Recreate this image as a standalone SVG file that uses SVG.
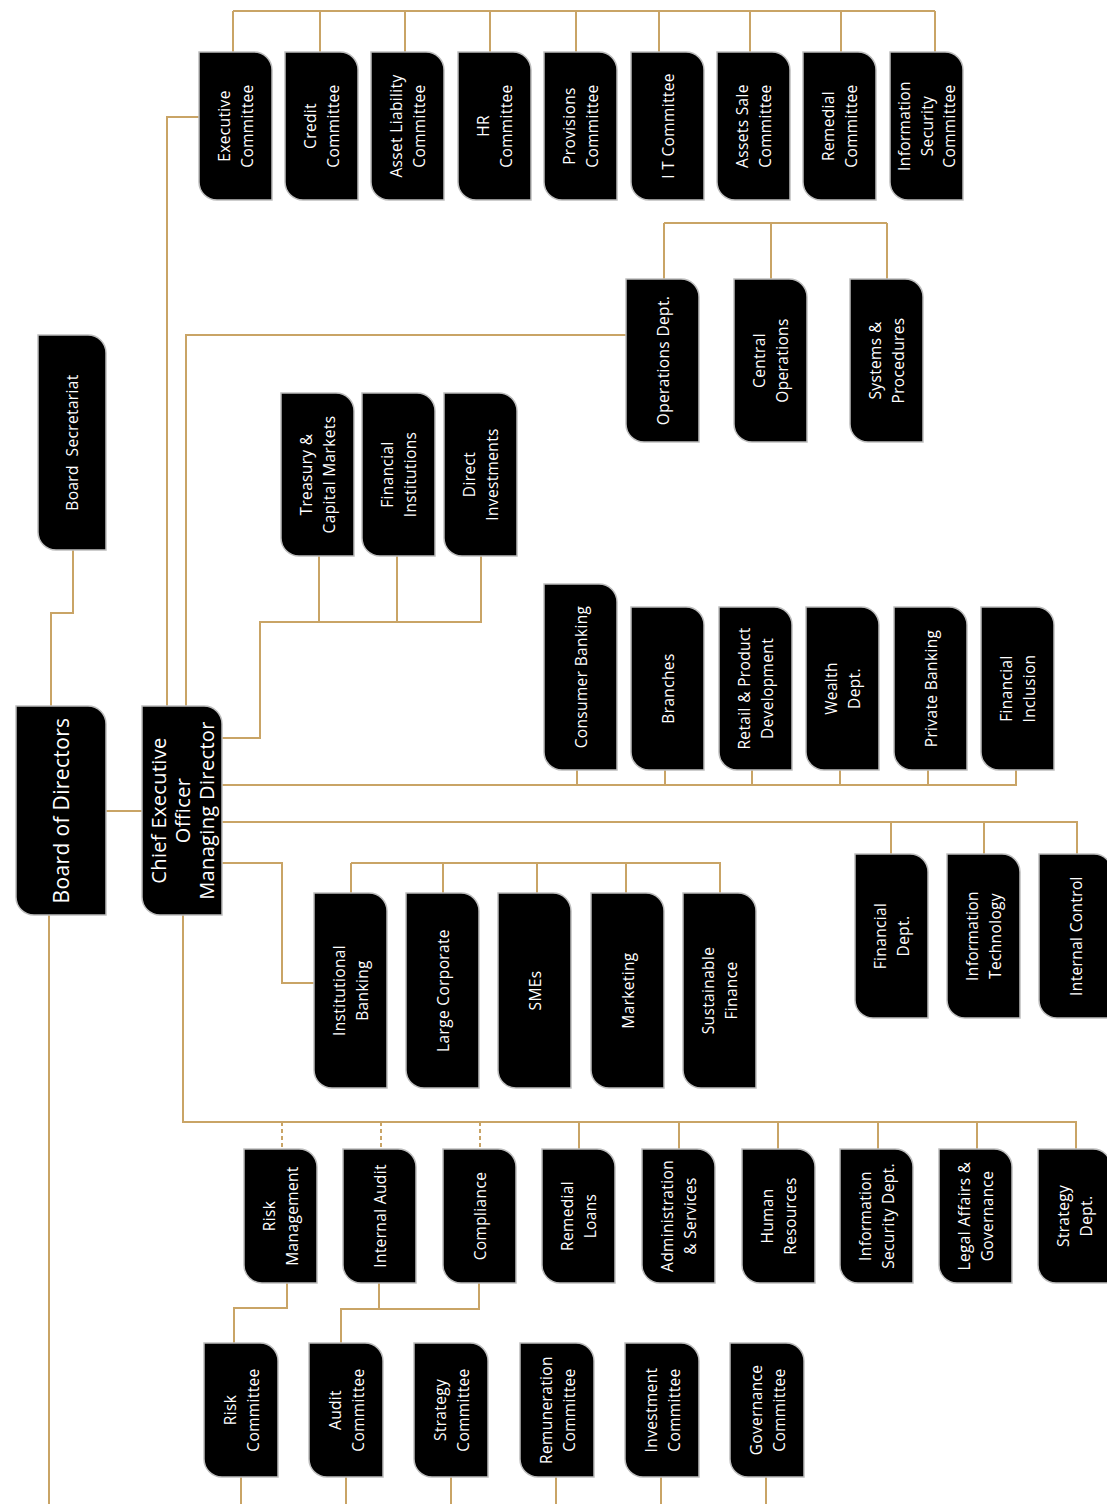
<svg xmlns="http://www.w3.org/2000/svg" width="1107" height="1504" viewBox="0 0 1107 1504">
<style>
.n path{fill:#000;stroke:#bdbdbd;stroke-width:1.5}
.n text{fill:#fff;font-family:'Open Sans','Noto Sans','DejaVu Sans',sans-serif;font-size:15.5px;letter-spacing:0.35px;text-anchor:middle;dominant-baseline:central}
.c path{fill:none;stroke:#c9a466;stroke-width:2}
.c path.d{stroke-dasharray:4 3}
</style>
<rect width="1107" height="1504" fill="#fff"/>
<g class="c" id="connectors">
<path d="M73,550 V613 H51 V706"/>
<path d="M49,915 V1504"/>
<path d="M106,811 H142"/>
<path d="M167,706 V117 H199"/>
<path d="M233,11 H935 M233,11 V52 M320,11 V52 M405,11 V52 M490,11 V52 M576,11 V52 M659,11 V52 M750,11 V52 M841,11 V52 M935,11 V52"/>
<path d="M186,706 V335 H626"/>
<path d="M664,223 H887 M664,223 V279 M771,223 V279 M887,223 V279"/>
<path d="M222,738 H260 V622 H481 V556 M319,622 V556 M397,622 V556"/>
<path d="M222,785 H1016 V770 M577,785 V770 M665,785 V770 M752,785 V770 M840,785 V770 M928,785 V770"/>
<path d="M222,822 H1077 V854 M891,822 V854 M984,822 V854"/>
<path d="M222,863 H282 V983 H314"/>
<path d="M351,863 H720 V893 M351,863 V893 M443,863 V893 M537,863 V893 M626,863 V893"/>
<path d="M183,915 V1122 H1076 V1149 M579,1122 V1149 M679,1122 V1149 M778,1122 V1149 M878,1122 V1149 M977,1122 V1149"/>
<path class="d" d="M282,1122 V1149 M381,1122 V1149 M480,1122 V1149"/>
<path d="M287,1283 V1308 H234 V1343"/>
<path d="M379,1283 V1309 M479,1283 V1309 H341 V1343"/>
<path d="M241,1477 V1504 M346,1477 V1504 M451,1477 V1504 M556,1477 V1504 M661,1477 V1504 M766,1477 V1504"/>
</g>

<g class="n" id="board-secretariat"><path d="M38,335 H88 A18,18 0 0 1 106,353 V550 H56 A18,18 0 0 1 38,532 Z"/><text xml:space="preserve" transform="translate(72,442.5) rotate(-90)">Board  Secretariat</text></g>
<g class="n" id="board-of-directors"><path d="M16,706 H88 A18,18 0 0 1 106,724 V915 H34 A18,18 0 0 1 16,897 Z"/><text style="font-size:21px" transform="translate(61,810.5) rotate(-90)">Board of Directors</text></g>
<g class="n" id="ceo"><path d="M142,706 H204 A18,18 0 0 1 222,724 V915 H160 A18,18 0 0 1 142,897 Z"/><text style="font-size:20px" transform="translate(182,810.5) rotate(-90)"><tspan x="0" y="-24">Chief Executive</tspan><tspan x="0" y="0">Officer</tspan><tspan x="0" y="24">Managing Director</tspan></text></g>

<g class="n" id="executive-committee"><path d="M199,52 H254 A18,18 0 0 1 272,70 V200 H217 A18,18 0 0 1 199,182 Z"/><text transform="translate(235.5,126) rotate(-90)"><tspan x="0" y="-11.5">Executive</tspan><tspan x="0" y="11.5">Committee</tspan></text></g>
<g class="n" id="credit-committee"><path d="M285,52 H340 A18,18 0 0 1 358,70 V200 H303 A18,18 0 0 1 285,182 Z"/><text transform="translate(321.5,126) rotate(-90)"><tspan x="0" y="-11.5">Credit</tspan><tspan x="0" y="11.5">Committee</tspan></text></g>
<g class="n" id="alco"><path d="M371,52 H426 A18,18 0 0 1 444,70 V200 H389 A18,18 0 0 1 371,182 Z"/><text transform="translate(407.5,126) rotate(-90)"><tspan x="0" y="-11.5">Asset Liability</tspan><tspan x="0" y="11.5">Committee</tspan></text></g>
<g class="n" id="hr-committee"><path d="M458,52 H513 A18,18 0 0 1 531,70 V200 H476 A18,18 0 0 1 458,182 Z"/><text transform="translate(494.5,126) rotate(-90)"><tspan x="0" y="-11.5">HR</tspan><tspan x="0" y="11.5">Committee</tspan></text></g>
<g class="n" id="provisions-committee"><path d="M544,52 H599 A18,18 0 0 1 617,70 V200 H562 A18,18 0 0 1 544,182 Z"/><text transform="translate(580.5,126) rotate(-90)"><tspan x="0" y="-11.5">Provisions</tspan><tspan x="0" y="11.5">Committee</tspan></text></g>
<g class="n" id="it-committee"><path d="M631,52 H686 A18,18 0 0 1 704,70 V200 H649 A18,18 0 0 1 631,182 Z"/><text transform="translate(667.5,126) rotate(-90)">I T Committee</text></g>
<g class="n" id="assets-sale-committee"><path d="M717,52 H772 A18,18 0 0 1 790,70 V200 H735 A18,18 0 0 1 717,182 Z"/><text transform="translate(753.5,126) rotate(-90)"><tspan x="0" y="-11.5">Assets Sale</tspan><tspan x="0" y="11.5">Committee</tspan></text></g>
<g class="n" id="remedial-committee"><path d="M803,52 H858 A18,18 0 0 1 876,70 V200 H821 A18,18 0 0 1 803,182 Z"/><text transform="translate(839.5,126) rotate(-90)"><tspan x="0" y="-11.5">Remedial</tspan><tspan x="0" y="11.5">Committee</tspan></text></g>
<g class="n" id="infosec-committee"><path d="M890,52 H945 A18,18 0 0 1 963,70 V200 H908 A18,18 0 0 1 890,182 Z"/><text transform="translate(926.5,126) rotate(-90)"><tspan x="0" y="-22.5">Information</tspan><tspan x="0" y="0">Security</tspan><tspan x="0" y="22.5">Committee</tspan></text></g>

<g class="n" id="operations-dept"><path d="M626,279 H681 A18,18 0 0 1 699,297 V442 H644 A18,18 0 0 1 626,424 Z"/><text transform="translate(662.5,360.5) rotate(-90)">Operations Dept.</text></g>
<g class="n" id="central-operations"><path d="M734,279 H789 A18,18 0 0 1 807,297 V442 H752 A18,18 0 0 1 734,424 Z"/><text transform="translate(770.5,360.5) rotate(-90)"><tspan x="0" y="-11.5">Central</tspan><tspan x="0" y="11.5">Operations</tspan></text></g>
<g class="n" id="systems-procedures"><path d="M850,279 H905 A18,18 0 0 1 923,297 V442 H868 A18,18 0 0 1 850,424 Z"/><text transform="translate(886.5,360.5) rotate(-90)"><tspan x="0" y="-11.5">Systems &amp;</tspan><tspan x="0" y="11.5">Procedures</tspan></text></g>

<g class="n" id="treasury"><path d="M281,393 H336 A18,18 0 0 1 354,411 V556 H299 A18,18 0 0 1 281,538 Z"/><text transform="translate(317.5,474.5) rotate(-90)"><tspan x="0" y="-11.5">Treasury &amp;</tspan><tspan x="0" y="11.5">Capital Markets</tspan></text></g>
<g class="n" id="financial-institutions"><path d="M362,393 H417 A18,18 0 0 1 435,411 V556 H380 A18,18 0 0 1 362,538 Z"/><text transform="translate(398.5,474.5) rotate(-90)"><tspan x="0" y="-11.5">Financial</tspan><tspan x="0" y="11.5">Institutions</tspan></text></g>
<g class="n" id="direct-investments"><path d="M444,393 H499 A18,18 0 0 1 517,411 V556 H462 A18,18 0 0 1 444,538 Z"/><text transform="translate(480.5,474.5) rotate(-90)"><tspan x="0" y="-11.5">Direct</tspan><tspan x="0" y="11.5">Investments</tspan></text></g>

<g class="n" id="consumer-banking"><path d="M544,584 H599 A18,18 0 0 1 617,602 V770 H562 A18,18 0 0 1 544,752 Z"/><text transform="translate(580.5,677) rotate(-90)">Consumer Banking</text></g>
<g class="n" id="branches"><path d="M631,607 H686 A18,18 0 0 1 704,625 V770 H649 A18,18 0 0 1 631,752 Z"/><text transform="translate(667.5,688.5) rotate(-90)">Branches</text></g>
<g class="n" id="retail-product"><path d="M719,607 H774 A18,18 0 0 1 792,625 V770 H737 A18,18 0 0 1 719,752 Z"/><text transform="translate(755.5,688.5) rotate(-90)"><tspan x="0" y="-11.5">Retail &amp; Product</tspan><tspan x="0" y="11.5">Development</tspan></text></g>
<g class="n" id="wealth-dept"><path d="M806,607 H861 A18,18 0 0 1 879,625 V770 H824 A18,18 0 0 1 806,752 Z"/><text transform="translate(842.5,688.5) rotate(-90)"><tspan x="0" y="-11.5">Wealth</tspan><tspan x="0" y="11.5">Dept.</tspan></text></g>
<g class="n" id="private-banking"><path d="M894,607 H949 A18,18 0 0 1 967,625 V770 H912 A18,18 0 0 1 894,752 Z"/><text transform="translate(930.5,688.5) rotate(-90)">Private Banking</text></g>
<g class="n" id="financial-inclusion"><path d="M981,607 H1036 A18,18 0 0 1 1054,625 V770 H999 A18,18 0 0 1 981,752 Z"/><text transform="translate(1017.5,688.5) rotate(-90)"><tspan x="0" y="-11.5">Financial</tspan><tspan x="0" y="11.5">Inclusion</tspan></text></g>

<g class="n" id="financial-dept"><path d="M855,854 H910 A18,18 0 0 1 928,872 V1018 H873 A18,18 0 0 1 855,1000 Z"/><text transform="translate(891.5,936) rotate(-90)"><tspan x="0" y="-11.5">Financial</tspan><tspan x="0" y="11.5">Dept.</tspan></text></g>
<g class="n" id="information-technology"><path d="M947,854 H1002 A18,18 0 0 1 1020,872 V1018 H965 A18,18 0 0 1 947,1000 Z"/><text transform="translate(983.5,936) rotate(-90)"><tspan x="0" y="-11.5">Information</tspan><tspan x="0" y="11.5">Technology</tspan></text></g>
<g class="n" id="internal-control"><path d="M1039,854 H1094 A18,18 0 0 1 1112,872 V1018 H1057 A18,18 0 0 1 1039,1000 Z"/><text transform="translate(1075.5,936) rotate(-90)">Internal Control</text></g>

<g class="n" id="institutional-banking"><path d="M314,893 H369 A18,18 0 0 1 387,911 V1088 H332 A18,18 0 0 1 314,1070 Z"/><text transform="translate(350.5,990.5) rotate(-90)"><tspan x="0" y="-11.5">Institutional</tspan><tspan x="0" y="11.5">Banking</tspan></text></g>
<g class="n" id="large-corporate"><path d="M406,893 H461 A18,18 0 0 1 479,911 V1088 H424 A18,18 0 0 1 406,1070 Z"/><text transform="translate(442.5,990.5) rotate(-90)">Large Corporate</text></g>
<g class="n" id="smes"><path d="M498,893 H553 A18,18 0 0 1 571,911 V1088 H516 A18,18 0 0 1 498,1070 Z"/><text transform="translate(534.5,990.5) rotate(-90)">SMEs</text></g>
<g class="n" id="marketing"><path d="M591,893 H646 A18,18 0 0 1 664,911 V1088 H609 A18,18 0 0 1 591,1070 Z"/><text transform="translate(627.5,990.5) rotate(-90)">Marketing</text></g>
<g class="n" id="sustainable-finance"><path d="M683,893 H738 A18,18 0 0 1 756,911 V1088 H701 A18,18 0 0 1 683,1070 Z"/><text transform="translate(719.5,990.5) rotate(-90)"><tspan x="0" y="-11.5">Sustainable</tspan><tspan x="0" y="11.5">Finance</tspan></text></g>

<g class="n" id="risk-management"><path d="M244,1149 H299 A18,18 0 0 1 317,1167 V1283 H262 A18,18 0 0 1 244,1265 Z"/><text transform="translate(280.5,1216) rotate(-90)"><tspan x="0" y="-11.5">Risk</tspan><tspan x="0" y="11.5">Management</tspan></text></g>
<g class="n" id="internal-audit"><path d="M343,1149 H398 A18,18 0 0 1 416,1167 V1283 H361 A18,18 0 0 1 343,1265 Z"/><text transform="translate(379.5,1216) rotate(-90)">Internal Audit</text></g>
<g class="n" id="compliance"><path d="M443,1149 H498 A18,18 0 0 1 516,1167 V1283 H461 A18,18 0 0 1 443,1265 Z"/><text transform="translate(479.5,1216) rotate(-90)">Compliance</text></g>
<g class="n" id="remedial-loans"><path d="M542,1149 H597 A18,18 0 0 1 615,1167 V1283 H560 A18,18 0 0 1 542,1265 Z"/><text transform="translate(578.5,1216) rotate(-90)"><tspan x="0" y="-11.5">Remedial</tspan><tspan x="0" y="11.5">Loans</tspan></text></g>
<g class="n" id="administration"><path d="M642,1149 H697 A18,18 0 0 1 715,1167 V1283 H660 A18,18 0 0 1 642,1265 Z"/><text transform="translate(678.5,1216) rotate(-90)"><tspan x="0" y="-11.5">Administration</tspan><tspan x="0" y="11.5">&amp; Services</tspan></text></g>
<g class="n" id="human-resources"><path d="M742,1149 H797 A18,18 0 0 1 815,1167 V1283 H760 A18,18 0 0 1 742,1265 Z"/><text transform="translate(778.5,1216) rotate(-90)"><tspan x="0" y="-11.5">Human</tspan><tspan x="0" y="11.5">Resources</tspan></text></g>
<g class="n" id="infosec-dept"><path d="M840,1149 H895 A18,18 0 0 1 913,1167 V1283 H858 A18,18 0 0 1 840,1265 Z"/><text transform="translate(876.5,1216) rotate(-90)"><tspan x="0" y="-11.5">Information</tspan><tspan x="0" y="11.5">Security Dept.</tspan></text></g>
<g class="n" id="legal-affairs"><path d="M939,1149 H994 A18,18 0 0 1 1012,1167 V1283 H957 A18,18 0 0 1 939,1265 Z"/><text transform="translate(975.5,1216) rotate(-90)"><tspan x="0" y="-11.5">Legal Affairs &amp;</tspan><tspan x="0" y="11.5">Governance</tspan></text></g>
<g class="n" id="strategy-dept"><path d="M1038,1149 H1093 A18,18 0 0 1 1111,1167 V1283 H1056 A18,18 0 0 1 1038,1265 Z"/><text transform="translate(1074.5,1216) rotate(-90)"><tspan x="0" y="-11.5">Strategy</tspan><tspan x="0" y="11.5">Dept.</tspan></text></g>

<g class="n" id="risk-committee"><path d="M204,1343 H260 A18,18 0 0 1 278,1361 V1477 H222 A18,18 0 0 1 204,1459 Z"/><text transform="translate(241,1410) rotate(-90)"><tspan x="0" y="-11.5">Risk</tspan><tspan x="0" y="11.5">Committee</tspan></text></g>
<g class="n" id="audit-committee"><path d="M309,1343 H365 A18,18 0 0 1 383,1361 V1477 H327 A18,18 0 0 1 309,1459 Z"/><text transform="translate(346,1410) rotate(-90)"><tspan x="0" y="-11.5">Audit</tspan><tspan x="0" y="11.5">Committee</tspan></text></g>
<g class="n" id="strategy-committee"><path d="M414,1343 H470 A18,18 0 0 1 488,1361 V1477 H432 A18,18 0 0 1 414,1459 Z"/><text transform="translate(451,1410) rotate(-90)"><tspan x="0" y="-11.5">Strategy</tspan><tspan x="0" y="11.5">Committee</tspan></text></g>
<g class="n" id="remuneration-committee"><path d="M520,1343 H576 A18,18 0 0 1 594,1361 V1477 H538 A18,18 0 0 1 520,1459 Z"/><text transform="translate(557,1410) rotate(-90)"><tspan x="0" y="-11.5">Remuneration</tspan><tspan x="0" y="11.5">Committee</tspan></text></g>
<g class="n" id="investment-committee"><path d="M625,1343 H681 A18,18 0 0 1 699,1361 V1477 H643 A18,18 0 0 1 625,1459 Z"/><text transform="translate(662,1410) rotate(-90)"><tspan x="0" y="-11.5">Investment</tspan><tspan x="0" y="11.5">Committee</tspan></text></g>
<g class="n" id="governance-committee"><path d="M730,1343 H786 A18,18 0 0 1 804,1361 V1477 H748 A18,18 0 0 1 730,1459 Z"/><text transform="translate(767,1410) rotate(-90)"><tspan x="0" y="-11.5">Governance</tspan><tspan x="0" y="11.5">Committee</tspan></text></g>
</svg>
